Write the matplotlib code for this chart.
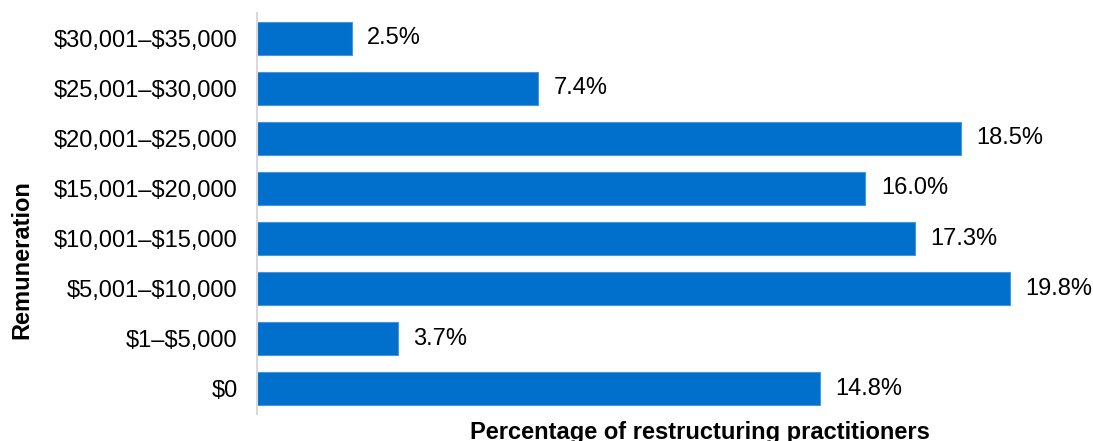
import matplotlib.pyplot as plt

plt.rcParams['font.family'] = ['Liberation Sans', 'DejaVu Sans']
plt.rcParams['text.parse_math'] = False

# categories bottom to top
ranges = ['$0', '$1–$5,000', '$5,001–$10,000', '$10,001–$15,000',
          '$15,001–$20,000', '$20,001–$25,000', '$25,001–$30,000', '$30,001–$35,000']
shares = [14.8, 3.7, 19.8, 17.3, 16.0, 18.5, 7.4, 2.5]

W, H = 1093, 441
fig = plt.figure(figsize=(W / 100, H / 100), dpi=100)
ax = fig.add_axes([257 / W, 27 / H, 837 / W, 401 / H])

bars = ax.barh(range(len(ranges)), shares, height=0.66, color='#0070CC',
               edgecolor='#4A94DA', linewidth=0.8)
for b, v in zip(bars, shares):
    ax.annotate(f'{v:.1f}%', (b.get_width(), b.get_y() + b.get_height() / 2),
                xytext=(11, 0), textcoords='offset points',
                va='center', ha='left', fontsize=17)

ax.set_xlim(0, 837 / 38.03)
ax.set_ylim(-0.5, len(ranges) - 0.5)
ax.set_yticks(range(len(ranges)))
ax.set_yticklabels(ranges, fontsize=17)
ax.tick_params(axis='y', length=0, pad=14)
ax.set_xticks([])
for s in ['top', 'right', 'bottom']:
    ax.spines[s].set_visible(False)
ax.spines['left'].set_color('#D9D9D9')
ax.spines['left'].set_linewidth(1.5)

fig.text(700 / W, 2 / H, 'Percentage of restructuring practitioners',
         ha='center', va='baseline', fontsize=17, fontweight='bold')
fig.text(22 / W, 1 - 260 / H, 'Remuneration', rotation=90,
         ha='center', va='center', fontsize=17, fontweight='bold')

fig.savefig('out.png', dpi=100)
